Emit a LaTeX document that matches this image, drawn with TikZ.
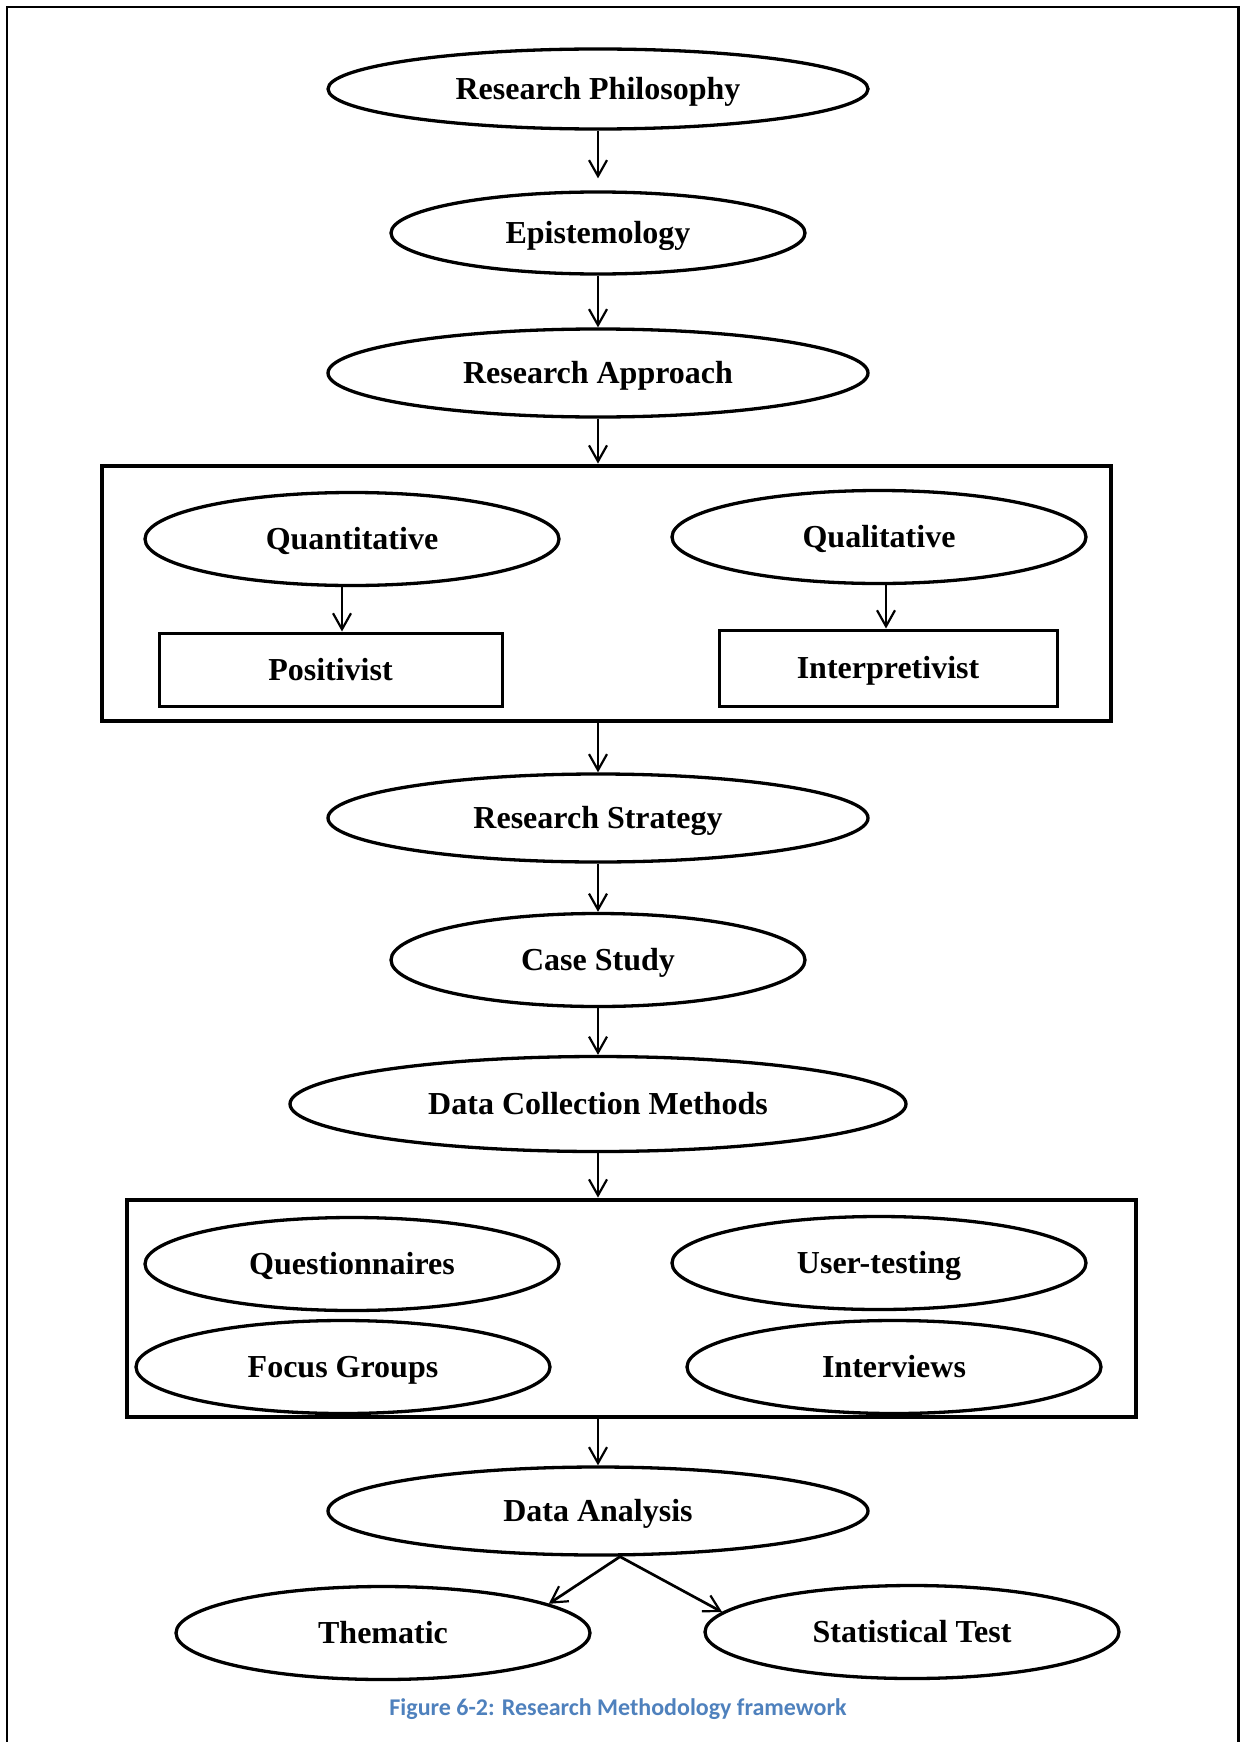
\documentclass[tikz,border=0pt]{standalone}
\usepackage{fontspec}
\setmainfont{Liberation Serif}
\newfontfamily\capfont{Carlito}
\usetikzlibrary{shapes.geometric,arrows.meta}
\definecolor{captionblue}{RGB}{79,129,189}

\begin{document}
\begin{tikzpicture}[x=1pt,y=-1pt,
  lbl/.style={font=\fontsize{32}{38}\selectfont\bfseries,
    text height=21pt, text depth=0pt, inner sep=0pt},
  oval/.style={lbl, ellipse, draw, line width=3.3pt,
    minimum width=414pt, minimum height=93pt},
  wideoval/.style={oval, minimum width=540pt, minimum height=88pt},
  framebox/.style={lbl, rectangle, draw, line width=3pt},
  groupbox/.style={rectangle, draw, line width=4.8pt, inner sep=0pt},
  arr/.style={line width=2.2pt,
    -{Straight Barb[length=16pt,width=18pt,line width=2.2pt]}},
  darr/.style={arr, line width=2.7pt}
]
\useasboundingbox (0,0) rectangle (1240,1742);

% page frame, open at the bottom
\draw[line width=2.5pt] (7,1742) -- (7,7) -- (1238.5,7) -- (1238.5,1742);

% main column
\node[wideoval, minimum height=80pt] (rp) at (598,89) {Research Philosophy};
\node[oval, minimum height=82pt] (ep) at (598,233) {Epistemology};
\node[wideoval] (ra) at (598,373) {Research Approach};

% approach group
\node[groupbox, minimum width=1009pt, minimum height=255pt] (box1) at (606.5,593.5) {};
\node[oval] (qt) at (352,539) {Quantitative};
\node[oval] (ql) at (879,537) {Qualitative};
\node[framebox, minimum width=343pt, minimum height=73pt] (pos) at (330.5,669.5) {Positivist};
\node[framebox, minimum width=338pt, minimum height=76pt] (int) at (888,668) {Interpretivist};

\node[wideoval] (rs) at (598,818) {Research Strategy};
\node[oval] (cs) at (598,960) {Case Study};
\node[oval, minimum width=616pt, minimum height=95pt] (dcm) at (598,1104) {Data Collection Methods};

% data collection group
\node[groupbox, minimum width=1009pt, minimum height=217pt] (box2) at (631.5,1308.5) {};
\node[oval] (qn) at (352,1264) {Questionnaires};
\node[oval] (ut) at (879,1263) {User-testing};
\node[oval] (fg) at (343,1367) {Focus Groups};
\node[oval] (iv) at (894,1367) {Interviews};

\node[wideoval] (da) at (598,1511) {Data Analysis};
\node[oval] (th) at (383,1633) {Thematic};
\node[oval] (st) at (912,1632) {Statistical Test};

% caption
\node[anchor=base, inner sep=0pt, text=captionblue,
  font=\capfont\bfseries\fontsize{24}{28}\selectfont] (cap) at (618,1715)
  {Figure 6-2: Research Methodology framework};

% connectors
\draw[arr, shorten >=12pt] (rp) -- (ep);
\draw[arr] (ep) -- (ra);
\draw[arr] (ra.south) -- (ra.south |- box1.north);
\draw[arr] ([xshift=-10pt]qt.south) -- ([xshift=-10pt]qt.south |- pos.north);
\draw[arr] ([xshift=7pt]ql.south) -- ([xshift=7pt]ql.south |- int.north);
\draw[arr] (box1.south -| rs.north) -- (rs.north);
\draw[arr] (rs) -- (cs);
\draw[arr] (cs) -- (dcm);
\draw[arr] (dcm.south) -- (dcm.south |- box2.north);
\draw[arr] (box2.south -| da.north) -- (da.north);
\coordinate (fork) at ([xshift=22pt]da.south);
\draw[darr] (fork) -- (th.10);
\draw[darr] (fork) -- (st.174);
\end{tikzpicture}
\end{document}
